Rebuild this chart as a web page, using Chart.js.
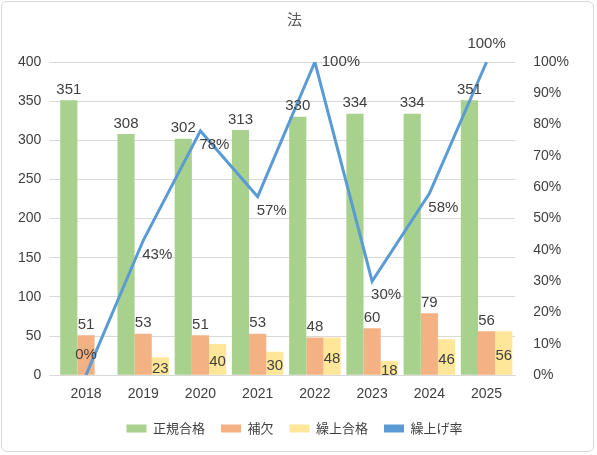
<!DOCTYPE html>
<html><head><meta charset="utf-8">
<script src="https://cdn.jsdelivr.net/npm/chart.js@4"></script>
<style>body{margin:0;background:#fff}#w{position:absolute;left:1px;top:1px;width:593px;height:451px;border:1px solid #d9d9d9;border-radius:6px;box-sizing:border-box}</style>
</head><body><div id="w"><canvas id="c"></canvas></div>
<script>
const categories=['2018','2019','2020','2021','2022','2023','2024','2025'];
const seikaku=[351,308,302,313,330,334,334,351];
const hoketsu=[51,53,51,53,48,60,79,56];
const kuriage=[0,23,40,30,48,18,46,56];
const rate=[0,43,78,57,100,30,58,100];
const labelPlugin={id:'lbl',afterDatasetsDraw(ch){const c=ch.ctx;c.save();c.font='15px "Liberation Sans", Arial';c.fillStyle='#404040';c.textAlign='center';
ch.data.datasets.forEach((ds,i)=>{const m=ch.getDatasetMeta(i);m.data.forEach((el,j)=>{const v=ds.data[j];
if(i<2){c.textBaseline='bottom';c.fillText(v,el.x,el.y-3);}
else if(i===2){if(v>0){c.textBaseline='middle';c.fillText(v,el.x,(el.y+el.base)/2+3);}}
else{c.textBaseline='middle';let dx=14,dy=14;if(v===0){dx=0;dy=-20;}if(v===100){dx=j===categories.length-1?0:26;dy=j===categories.length-1?-18:0;}c.fillText(v+'%',el.x+dx,el.y+dy);}
});});c.restore();}};
new Chart(document.getElementById('c'),{data:{labels:categories,datasets:[
{type:'bar',label:'正規合格',data:seikaku,backgroundColor:'#A9D18E',yAxisID:'y',order:2},
{type:'bar',label:'補欠',data:hoketsu,backgroundColor:'#F4B183',yAxisID:'y',order:2},
{type:'bar',label:'繰上合格',data:kuriage,backgroundColor:'#FFE699',yAxisID:'y',order:2},
{type:'line',label:'繰上げ率',data:rate,borderColor:'#5B9BD5',backgroundColor:'#5B9BD5',borderWidth:3,pointRadius:0,yAxisID:'y1',order:1}]},
options:{responsive:true,maintainAspectRatio:false,animation:false,
layout:{padding:{left:8,right:14,top:4,bottom:6}},
datasets:{bar:{barPercentage:1,categoryPercentage:0.9}},
plugins:{title:{display:true,text:'法',color:'#595959',font:{size:15,weight:'normal',family:'"Noto Sans CJK JP"'},padding:{top:4,bottom:34}},
legend:{position:'bottom',labels:{color:'#404040',font:{size:13,family:'"Noto Sans CJK JP"'},boxWidth:20,boxHeight:8,padding:16,
generateLabels(ch){return ch.data.datasets.map((d,i)=>({text:d.label,fillStyle:d.backgroundColor,strokeStyle:d.backgroundColor,lineWidth:0,datasetIndex:i,fontColor:'#404040'}));}}},tooltip:{enabled:false}},
scales:{x:{grid:{display:false},border:{color:'#d9d9d9'},ticks:{color:'#404040',font:{size:14}}},
y:{min:0,max:400,ticks:{stepSize:50,color:'#404040',font:{size:14},padding:8},grid:{color:'#d9d9d9'},border:{display:false}},
y1:{position:'right',min:0,max:100,ticks:{stepSize:10,color:'#404040',font:{size:14},padding:10,callback:v=>v+'%'},grid:{display:false},border:{display:false}}}},
plugins:[labelPlugin]});
</script></body></html>
